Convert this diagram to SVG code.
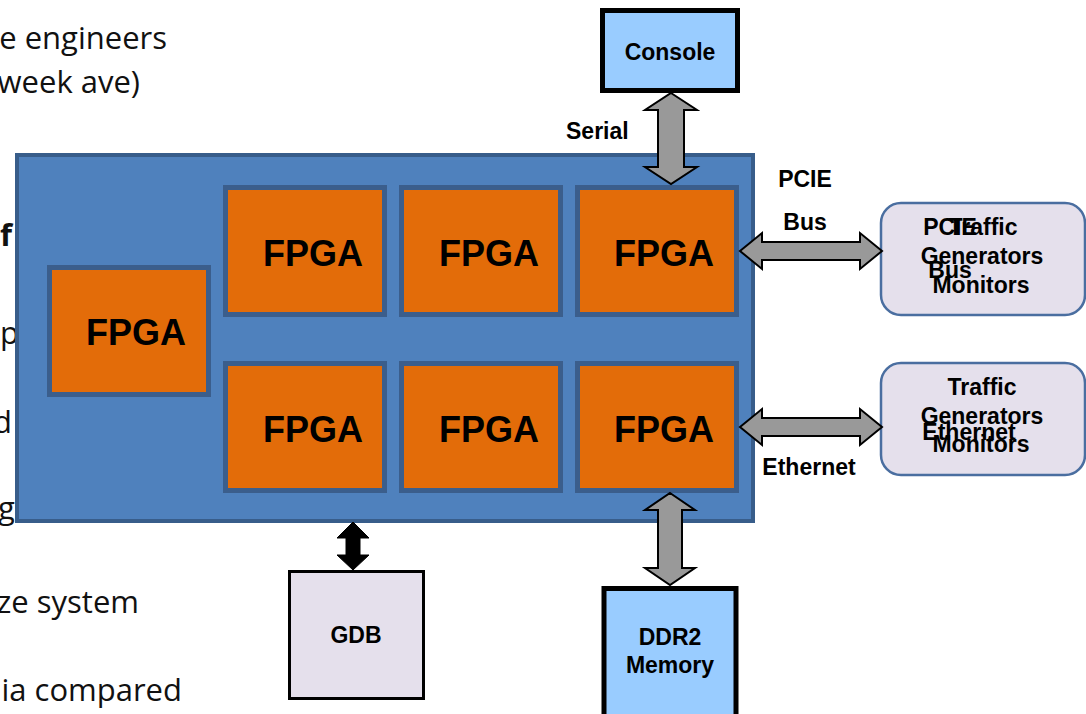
<svg xmlns="http://www.w3.org/2000/svg" width="1086" height="714" viewBox="0 0 1086 714">
<style>
.bg{font-family:"Open Sans","Noto Sans",sans-serif;font-size:31px;fill:#111}
.lbl{font-family:"Liberation Sans",Arial,sans-serif;font-weight:bold;font-size:23px;fill:#000}
.fpga-t{font-family:"Liberation Sans",Arial,sans-serif;font-weight:bold;font-size:36px;fill:#000}
.fpga{fill:#E36C09;stroke:#3B5E8C;stroke-width:5}
.board{fill:#4F81BD;stroke:#385D8A;stroke-width:4}
.blue{fill:#99CCFF;stroke:#000;stroke-width:5}
.lav{fill:#E5E0EC;stroke:#000;stroke-width:3}
.traffic{fill:#E5E0EC;stroke:#4A6EA0;stroke-width:2.5}
.garrow{fill:#999999;stroke:#000;stroke-width:2;stroke-linejoin:miter}
.karrow{fill:#000;stroke:#000;stroke-width:1}
</style>
<rect width="1086" height="714" fill="#fff"/>
<g id="slide-text">
<text class="bg" x="167" y="49" text-anchor="end">e engineers</text>
<text class="bg" x="140" y="93" text-anchor="end">week ave)</text>
<text class="bg" x="0" y="246" font-weight="bold">f</text>
<text class="bg" x="0" y="344">p</text>
<text class="bg" x="-7" y="433">d</text>
<text class="bg" x="-2" y="519">g</text>
<text class="bg" x="139" y="613" text-anchor="end">ze system</text>
<text class="bg" x="182" y="701" text-anchor="end">ia compared</text>
</g>
<g id="board">
<rect class="board" x="17" y="155" width="736" height="366"/>
</g>
<g id="fpga-left">
<rect class="fpga" x="49.5" y="267.5" width="159" height="127"/>
<text class="fpga-t" x="86" y="345">FPGA</text>
</g>
<g id="fpga-1">
<rect class="fpga" x="225.5" y="187.5" width="159" height="127"/>
<text class="fpga-t" x="263" y="266">FPGA</text>
</g>
<g id="fpga-2">
<rect class="fpga" x="401.5" y="187.5" width="159" height="127"/>
<text class="fpga-t" x="439" y="266">FPGA</text>
</g>
<g id="fpga-3">
<rect class="fpga" x="577.5" y="187.5" width="159" height="127"/>
<text class="fpga-t" x="614" y="266">FPGA</text>
</g>
<g id="fpga-4">
<rect class="fpga" x="225.5" y="363.5" width="159" height="127"/>
<text class="fpga-t" x="263" y="442">FPGA</text>
</g>
<g id="fpga-5">
<rect class="fpga" x="401.5" y="363.5" width="159" height="127"/>
<text class="fpga-t" x="439" y="442">FPGA</text>
</g>
<g id="fpga-6">
<rect class="fpga" x="577.5" y="363.5" width="159" height="127"/>
<text class="fpga-t" x="614" y="442">FPGA</text>
</g>
<g id="console">
<rect class="blue" x="602.5" y="10.5" width="135" height="80"/>
<text class="lbl" x="670" y="60" text-anchor="middle">Console</text>
</g>
<g id="ddr2">
<rect class="blue" x="604" y="588.5" width="132" height="140"/>
<text class="lbl" x="670" y="645" text-anchor="middle">DDR2</text>
<text class="lbl" x="670" y="673" text-anchor="middle">Memory</text>
</g>
<g id="gdb">
<rect class="lav" x="289.5" y="571.5" width="134" height="127"/>
<text class="lbl" x="356" y="643" text-anchor="middle">GDB</text>
</g>
<g id="pcie-traffic">
<rect class="traffic" x="881" y="203" width="204" height="112" rx="20"/>
<text class="lbl" x="950" y="235" text-anchor="middle">PCIE</text>
<text class="lbl" x="950" y="278" text-anchor="middle">Bus</text>
<text class="lbl" x="983" y="235" text-anchor="middle">Traffic</text>
<text class="lbl" x="982" y="264" text-anchor="middle">Generators</text>
<text class="lbl" x="981" y="293" text-anchor="middle">Monitors</text>
</g>
<g id="eth-traffic">
<rect class="traffic" x="881" y="363" width="204" height="112" rx="20"/>
<text class="lbl" x="982" y="395" text-anchor="middle">Traffic</text>
<text class="lbl" x="982" y="424" text-anchor="middle">Generators</text>
<text class="lbl" x="969" y="440" text-anchor="middle">Ethernet</text>
<text class="lbl" x="981" y="452" text-anchor="middle">Monitors</text>
</g>
<g id="connectors">
<polygon class="garrow" points="671,93 697,110 684,110 684,167 697,167 671,184 645,167 658,167 658,110 645,110"/>
<polygon class="garrow" points="740,251 762,233 762,242 860,242 860,233 882,251 860,269 860,260 762,260 762,269"/>
<polygon class="garrow" points="740,427 762,409 762,418 860,418 860,409 882,427 860,445 860,436 762,436 762,445"/>
<polygon class="garrow" points="670,493 695,510 682,510 682,568 695,568 670,585 645,568 658,568 658,510 645,510"/>
<polygon class="karrow" points="353,522 369,538 360,538 360,555 369,555 353,570 337,555 346,555 346,538 337,538"/>
<text class="lbl" x="566" y="139">Serial</text>
<text class="lbl" x="805" y="187" text-anchor="middle">PCIE</text>
<text class="lbl" x="805" y="230" text-anchor="middle">Bus</text>
<text class="lbl" x="809" y="475" text-anchor="middle">Ethernet</text>
</g>
</svg>
